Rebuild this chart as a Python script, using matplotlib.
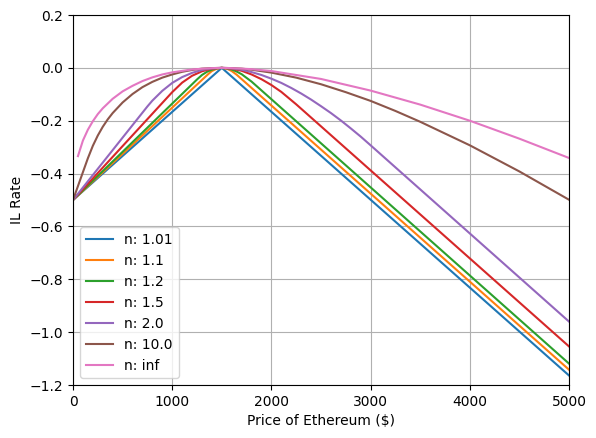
import numpy as np
import matplotlib
matplotlib.use('Agg')
import matplotlib.pyplot as plt

# values (price in $, IL rate)
x_101 = [0, 1500, 5000]
il_101 = [-0.5, 0.0, -1.164]

x_11 = [0, 1365, 1400, 1450, 1500, 1550, 1600, 1650, 5000]
il_11 = [-0.5, -0.023, -0.012, -0.003, 0.0, -0.003, -0.012, -0.026, -1.142]

x_12 = [0, 1250, 1300, 1350, 1400, 1450, 1500, 1550, 1600, 1650, 1700, 1800, 5000]
il_12 = [-0.5, -0.044, -0.027, -0.015, -0.007, -0.002, 0.0, -0.002, -0.006, -0.014, -0.024, -0.052, -1.119]

x_15 = [0, 1000, 1100, 1200, 1300, 1400, 1500, 1600, 1700, 1800, 1900, 2000, 2100, 2250, 5000]
il_15 = [-0.5, -0.092, -0.056, -0.030, -0.013, -0.003, 0.0, -0.003, -0.011, -0.025, -0.043, -0.065, -0.091, -0.138, -1.054]

x_20 = [0, 750, 800, 900, 1000, 1100, 1200, 1300, 1400, 1500, 1600, 1700, 1800, 1900, 2000,
        2100, 2200, 2300, 2400, 2500, 2600, 2700, 2800, 2900, 3000, 5000]
il_20 = [-0.5, -0.146, -0.124, -0.087, -0.057, -0.035, -0.019, -0.008, -0.002, 0.0, -0.002, -0.007, -0.016, -0.027, -0.041,
         -0.057, -0.076, -0.097, -0.120, -0.145, -0.171, -0.199, -0.229, -0.260, -0.293, -0.960]

x_100 = [0, 150, 200, 250, 300, 350, 400, 500, 600, 700, 800, 900, 1000, 1100, 1200, 1300, 1400, 1500,
         1600, 1700, 1800, 2000, 2250, 2500, 2750, 3000, 3250, 3500, 4000, 4500, 5000]
il_100 = [-0.5, -0.342, -0.295, -0.256, -0.223, -0.195, -0.171, -0.131, -0.099, -0.073, -0.053, -0.037, -0.025, -0.015, -0.008, -0.003, -0.001, 0.0,
          -0.001, -0.003, -0.007, -0.018, -0.037, -0.062, -0.092, -0.125, -0.163, -0.204, -0.293, -0.392, -0.499]

x_inf = [50, 100, 150, 200, 250, 300, 400, 500, 600, 700, 800, 900, 1000, 1200, 1400, 1500,
         1600, 1800, 2000, 2500, 3000, 3500, 4000, 4500, 5000]
il_inf = [-0.334, -0.275, -0.234, -0.202, -0.175, -0.153, -0.117, -0.089, -0.068, -0.050, -0.036, -0.025, -0.017, -0.006, -0.001, 0.0,
          -0.001, -0.005, -0.012, -0.042, -0.086, -0.139, -0.200, -0.268, -0.341]

labels = ['n: 1.01', 'n: 1.1', 'n: 1.2', 'n: 1.5', 'n: 2.0', 'n: 10.0', 'n: inf']
xs = [x_101, x_11, x_12, x_15, x_20, x_100, x_inf]
ys = [il_101, il_11, il_12, il_15, il_20, il_100, il_inf]

fig = plt.figure(figsize=(5.96, 4.38), dpi=100)
plt.subplots_adjust(left=73/596, right=569/596, top=1-15/438, bottom=1-385/438)

for x, y, lab in zip(xs, ys, labels):
    plt.plot(x, y, label=lab)

plt.xlim(0, 5000)
plt.ylim(-1.2, 0.2)
plt.grid(True)
plt.legend(loc='lower left')
plt.xlabel('Price of Ethereum ($)')
plt.ylabel('IL Rate')
plt.savefig('out.png', dpi=100)
plt.close()
